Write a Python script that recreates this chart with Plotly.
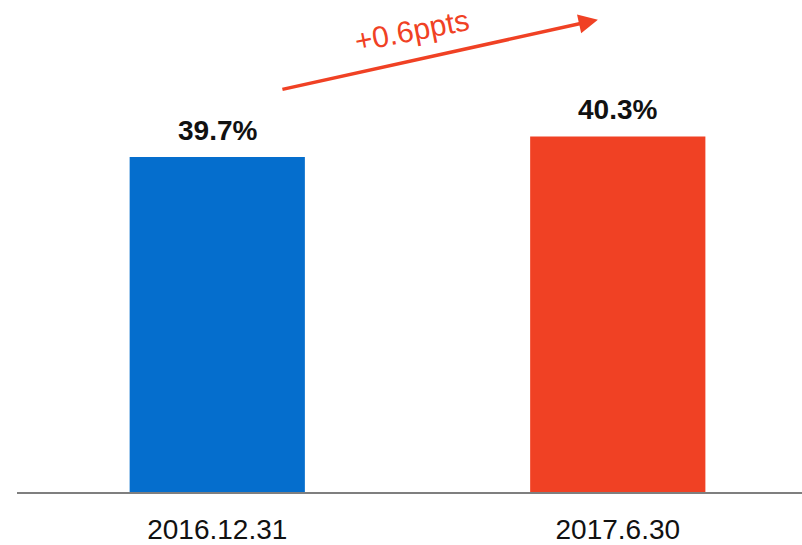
import plotly.graph_objects as go

categories = ["2016.12.31", "2017.6.30"]
values = [39.7, 40.3]
labels = ["39.7%", "40.3%"]
colors = ["#056ECD", "#F04124"]
change_label = "+0.6ppts"

FONT = "Liberation Sans, Arial, sans-serif"

fig = go.Figure()
fig.add_trace(go.Bar(
    x=categories, y=values, width=0.4375,
    marker=dict(color=colors, line=dict(width=0)),
    hoverinfo="skip",
))

for c, v, lab in zip(categories, values, labels):
    fig.add_annotation(
        x=c, y=v, xref="x", yref="y", text=f"<b>{lab}</b>",
        showarrow=False, yanchor="bottom", xanchor="center", yshift=9,
        font=dict(family=FONT, size=28, color="#111111"),
    )

fig.add_annotation(
    x=0.74, y=0.96, xref="paper", yref="paper",
    ax=-317, ay=70, axref="pixel", ayref="pixel",
    showarrow=True, arrowhead=2, arrowsize=1.1, arrowwidth=3.5,
    arrowcolor="#F04124", text="",
)
fig.add_annotation(
    x=0.503, y=0.9375, xref="paper", yref="paper",
    xanchor="center", yanchor="middle",
    text=change_label, showarrow=False, textangle=-11,
    font=dict(family=FONT, size=30, color="#F04124"),
)

fig.update_layout(
    width=802, height=545,
    margin=dict(l=17, r=0, t=0, b=49),
    plot_bgcolor="white", paper_bgcolor="white",
    showlegend=False,
    xaxis=dict(
        type="category", range=[-0.5, 1.46],
        showline=True, linecolor="#7F7F7F", linewidth=2,
        showgrid=False, ticks="", ticklabelstandoff=11,
        tickfont=dict(family=FONT, size=28, color="#111111"),
    ),
    yaxis=dict(range=[30, 44.25], visible=False, showgrid=False),
)

fig.write_html("out.html", config={"displayModeBar": False},
               post_script="document.body.style.margin='0px';")
